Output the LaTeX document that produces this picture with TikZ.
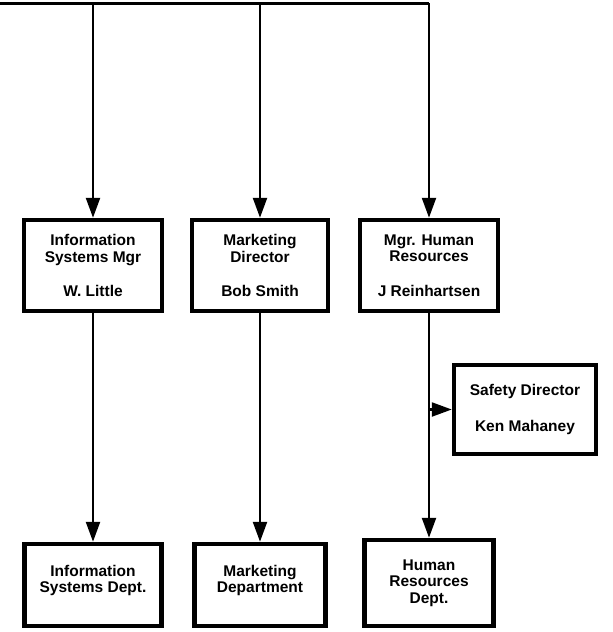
\documentclass[tikz,border=0pt]{standalone}
\usepackage{fontspec}
\setmainfont{Liberation Sans}
\usetikzlibrary{arrows.meta}
\begin{document}
\begin{tikzpicture}[x=1pt,y=-1pt,
  box/.style={draw,line width=4.5pt,inner sep=0pt,align=center,
    font=\bfseries\fontsize{15.5}{16.5}\selectfont},
  link/.style={line width=2.4pt},
  arr/.style={link,-{Triangle[length=20pt,width=14pt]}}]
\useasboundingbox (0,0) rectangle (613,632);
% managers
\node[box,minimum width=138pt,minimum height=91pt] (isys) at (93,265.5) {Information\\Systems Mgr\\[18pt]W. Little};
\node[box,minimum width=136pt,minimum height=91pt] (mkt) at (260,265.5) {Marketing\\Director\\[18pt]Bob Smith};
\node[box,minimum width=138pt,minimum height=91pt] (hrmgr) at (429,265.5) {Mgr. Human\\Resources\\[18pt]J Reinhartsen};
\node[box,minimum width=142pt,minimum height=89pt] (safety) at (525,409.5) {Safety Director\\[20pt]Ken Mahaney};
% departments
\node[box,minimum width=137pt,minimum height=82pt] (isysdept) at (93,585) {Information\\Systems Dept.\\[-4pt]};
\node[box,minimum width=131pt,minimum height=82pt] (mktdept) at (260,585) {Marketing\\Department\\[-4pt]};
\node[box,minimum width=129pt,minimum height=86pt] (hrdept) at (429,583) {Human\\Resources\\Dept.};
% top line
\coordinate (top) at (0,3);
\draw[line width=3pt] (top) -- (top -| hrmgr);
\draw[arr] (top -| isys) -- (isys);
\draw[arr] (top -| mkt) -- (mkt);
\draw[arr] (top -| hrmgr) -- (hrmgr);
\draw[arr] (isys) -- (isysdept);
\draw[arr] (mkt) -- (mktdept);
\draw[arr] (hrmgr) -- (hrdept);
\draw[arr] (hrmgr |- safety.west) -- (safety.west);
\end{tikzpicture}
\end{document}
